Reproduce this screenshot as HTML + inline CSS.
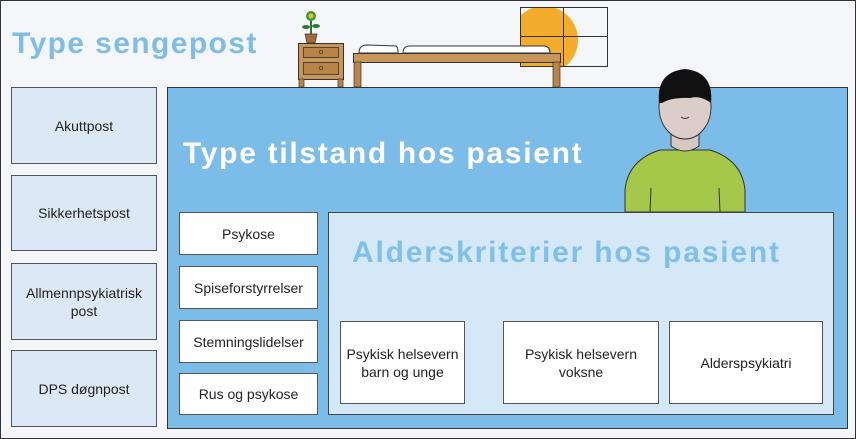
<!DOCTYPE html>
<html><head><meta charset="utf-8"><style>
*{margin:0;padding:0;box-sizing:border-box}
body{width:856px;height:439px;background:#f4f6fa;font-family:"Liberation Sans",sans-serif;position:relative;overflow:hidden}
.b{position:absolute;border:1px solid #555;display:flex;align-items:center;justify-content:center;text-align:center;font-size:14px;color:#222;line-height:18px}
.l{background:#dde8f6}
.w{background:#fff}
.t{position:absolute;font-weight:bold;font-size:30px;letter-spacing:1.7px;white-space:nowrap}
</style></head><body>
<div style="position:absolute;left:0;top:0;width:856px;height:439px;border:1px solid #333"></div>
<div class="t" style="left:12px;top:27px;color:#7fbde6;letter-spacing:1.4px">Type sengepost</div>
<div class="b l" style="left:11px;top:87px;width:146px;height:77px">Akuttpost</div>
<div class="b l" style="left:11px;top:175px;width:146px;height:76px">Sikkerhetspost</div>
<div class="b l" style="left:11px;top:263px;width:146px;height:77px">Allmennpsykiatrisk<br>post</div>
<div class="b l" style="left:11px;top:350px;width:146px;height:77px">DPS døgnpost</div>
<div style="position:absolute;left:167px;top:87px;width:681px;height:342px;background:#7bbce8;border:1px solid #333"></div>
<svg style="position:absolute;left:0;top:0" width="856" height="439">
<clipPath id="c"><rect x="520" y="7" width="87" height="59"/></clipPath>
<circle cx="544" cy="40" r="34" fill="#f4ac2c" clip-path="url(#c)"/>
<rect x="520.5" y="7.5" width="87" height="59" fill="none" stroke="#333"/>
<line x1="563.5" y1="7" x2="563.5" y2="66" stroke="#333"/><line x1="520" y1="36.5" x2="607" y2="36.5" stroke="#333"/>
<line x1="311" y1="18" x2="311" y2="34" stroke="#2f7a2f" stroke-width="2"/>
<ellipse cx="306" cy="27" rx="4" ry="2" fill="#2f7a2f"/><ellipse cx="316" cy="26" rx="4" ry="2" fill="#2f7a2f"/>
<circle cx="311" cy="16" r="5" fill="#3a9a3a"/><circle cx="311" cy="16" r="2.5" fill="#f0c030"/>
<path d="M305 34 H317 L315 43 H307 Z" fill="#a8693a" stroke="#333" stroke-width=".7"/>
<rect x="298.5" y="43.5" width="45" height="36" fill="#c8955a" stroke="#333"/>
<rect x="303.5" y="47.5" width="35" height="10" fill="#b88548" stroke="#333" stroke-width=".8"/>
<rect x="303.5" y="62.5" width="35" height="12" fill="#b88548" stroke="#333" stroke-width=".8"/>
<circle cx="321" cy="52" r="1.8" fill="none" stroke="#333" stroke-width=".7"/><circle cx="321" cy="68" r="1.8" fill="none" stroke="#333" stroke-width=".7"/>
<rect x="299" y="79" width="5" height="8" fill="#b88548" stroke="#333" stroke-width=".7"/><rect x="338" y="79" width="5" height="8" fill="#b88548" stroke="#333" stroke-width=".7"/>
<path d="M359 53 Q359 45 367 45 L396 46 Q398 47 398 53 Z" fill="#fff" stroke="#333"/>
<path d="M403 53 Q403 46 410 46 L545 46 Q550 47 550 53 Z" fill="#fff" stroke="#333"/>
<rect x="353.5" y="53.5" width="207" height="9" fill="#c8955a" stroke="#333"/>
<rect x="354" y="62" width="7" height="25" fill="#b88548" stroke="#333" stroke-width=".7"/>
<rect x="553" y="62" width="7" height="25" fill="#b88548" stroke="#333" stroke-width=".7"/>
<path d="M625 212 L625 190 Q628 160 660 150 L710 150 Q742 160 745 190 L745 212 Z" fill="#a5c84a" stroke="#333"/>
<line x1="651" y1="188" x2="650" y2="212" stroke="#333"/><line x1="719" y1="188" x2="720" y2="212" stroke="#333"/>
<path d="M671 126 L671 146 Q685 156 699 146 L699 126 Z" fill="#d8c8c2" stroke="#333"/>
<ellipse cx="685" cy="107" rx="26" ry="32" fill="#dccdc8" stroke="#333"/>
<path d="M659 103 Q656 72 685 69 Q714 72 711 103 Q700 95 690 98 Q672 97 662 103 Z" fill="#111"/>
<path d="M681 117 Q685 120 689 117" fill="none" stroke="#333"/>
</svg>
<div class="t" style="left:183px;top:137px;color:#fff">Type tilstand hos pasient</div>
<div class="b w" style="left:179px;top:212px;width:139px;height:43px">Psykose</div>
<div class="b w" style="left:179px;top:266px;width:139px;height:43px">Spiseforstyrrelser</div>
<div class="b w" style="left:179px;top:320px;width:139px;height:43px">Stemningslidelser</div>
<div class="b w" style="left:179px;top:373px;width:139px;height:42px">Rus og psykose</div>
<div style="position:absolute;left:328px;top:212px;width:506px;height:203px;background:#d4e8f8;border:1px solid #444"></div>
<div class="t" style="left:352px;top:236px;color:#80c0e8;letter-spacing:1.8px">Alderskriterier hos pasient</div>
<div class="b w" style="left:340px;top:321px;width:125px;height:83px">Psykisk helsevern<br>barn og unge</div>
<div class="b w" style="left:503px;top:321px;width:156px;height:83px">Psykisk helsevern<br>voksne</div>
<div class="b w" style="left:669px;top:321px;width:154px;height:83px">Alderspsykiatri</div>
</body></html>
